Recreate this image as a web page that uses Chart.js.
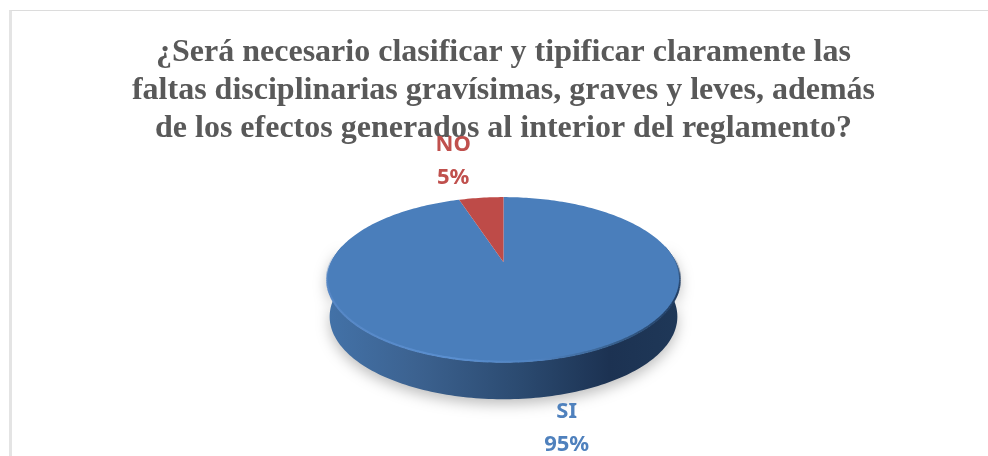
<!DOCTYPE html>
<html><head><meta charset="utf-8">
<style>html,body{margin:0;padding:0;background:#fff}#w{position:relative;width:988px;height:456px;overflow:hidden}
#f{position:absolute;left:9px;top:10px;width:990px;height:460px;border-top:1.5px solid #dcdcdc;border-left:3px solid #e4e4e4;box-sizing:border-box}
canvas{position:absolute;left:0;top:0}</style>
<script src="https://cdn.jsdelivr.net/npm/chart.js@4"></script></head>
<body><div id="w"><div id="f"></div><canvas id="c" width="988" height="456"></canvas></div>
<script>
const titleLines = ['¿Será necesario clasificar y tipificar claramente las','faltas disciplinarias gravísimas, graves y leves, además','de los efectos generados al interior del reglamento?'];
const categories = ['SI','NO'];
const percentages = [95,5];
const sliceColors = ['#4a7ebb','#be4b48'];
const labelColors = ['#4f81bd','#c0504d'];
const labelOffsets = [[29,51],[-28,-53]];
const TILT=0.457, PERSP=0.2121, DEPTH=37, LABEL_PITCH=33;
function proj(el,th,sc,dy){const u=Math.cos(th),v=-Math.sin(th),d=1+PERSP*v,R=el.outerRadius;
  return [el.x+(sc||1)*R*u/d, el.y+(dy||0)-R*TILT*v/d];}
function trace(ctx,el,a,b,sc,dy,move){const n=Math.max(8,Math.ceil(Math.abs(b-a)/0.02));
  for(let i=0;i<=n;i++){const p=proj(el,a+(b-a)*i/n,sc,dy);if(i===0&&move)ctx.moveTo(p[0],p[1]);else ctx.lineTo(p[0],p[1]);}}
const pie3d={id:'pie3d',
 beforeDatasetsDraw(chart){
  const ctx=chart.ctx,els=chart.getDatasetMeta(0).data,el=els[0];
  const PI=Math.PI;
  const L=el.x-el.outerRadius*1.023,Rr=el.x+el.outerRadius*1.023;
  // soft shadow + side wall
  ctx.save();
  ctx.shadowColor='rgba(0,0,0,0.26)';ctx.shadowBlur=14;ctx.shadowOffsetY=5;
  const g=ctx.createLinearGradient(L,0,Rr,0);
  g.addColorStop(0,'#4372a8');g.addColorStop(0.25,'#3c6290');g.addColorStop(0.55,'#2b4a70');g.addColorStop(0.8,'#1c3252');g.addColorStop(1,'#1f3858');
  ctx.fillStyle=g;ctx.beginPath();
  trace(ctx,el,-0.21,PI+0.21,1,0,true);
  trace(ctx,el,PI+0.21,-0.21,0.985,DEPTH,false);
  ctx.closePath();ctx.fill();ctx.restore();
  // top faces, from the library's arc elements
  els.forEach((a,i)=>{ctx.fillStyle=sliceColors[i];ctx.beginPath();
    ctx.moveTo(a.x,a.y);trace(ctx,a,a.startAngle,a.endAngle,1,0,false);ctx.closePath();ctx.fill();});
  // bevel rim, only on the front of the disc
  ctx.save();ctx.lineWidth=2;
  const r=ctx.createLinearGradient(L,0,Rr,0);
  r.addColorStop(0,'#5687c6');r.addColorStop(0.35,'#5a8fd0');r.addColorStop(0.6,'#4f82c0');r.addColorStop(0.8,'#38618f');r.addColorStop(1,'#1f3b60');
  ctx.strokeStyle=r;
  for(let t=-0.3;t<PI+0.3;t+=0.02){
    ctx.globalAlpha=Math.max(0,Math.min(1,(Math.sin(t)+0.1)/0.45));
    if(ctx.globalAlpha===0)continue;
    const p=proj(el,t,1,-0.5),q=proj(el,t+0.022,1,-0.5);
    ctx.beginPath();ctx.moveTo(p[0],p[1]);ctx.lineTo(q[0],q[1]);ctx.stroke();
  }
  ctx.restore();
  // labels
  ctx.save();ctx.textAlign='center';ctx.textBaseline='middle';ctx.font='bold 22px "Noto Sans"';
  els.forEach((a,i)=>{const p=proj(a,(a.startAngle+a.endAngle)/2,1,0),o=labelOffsets[i];
    ctx.fillStyle=labelColors[i];
    ctx.fillText(categories[i],p[0]+o[0],p[1]+o[1]);
    ctx.fillText(percentages[i]+'%',p[0]+o[0],p[1]+o[1]+LABEL_PITCH);});
  ctx.restore();
  return false;
 }};
new Chart(document.getElementById('c'),{type:'pie',
 data:{labels:categories,datasets:[{data:percentages,backgroundColor:sliceColors,borderWidth:0}]},
 options:{responsive:false,animation:false,radius:172.5,
  layout:{padding:{left:19,right:0,top:34,bottom:79}},
  plugins:{legend:{display:false},tooltip:{enabled:false},
   title:{display:true,text:titleLines,color:'#595959',font:{family:'"Liberation Serif"',size:32,weight:'bold',lineHeight:1.18},padding:{top:0,bottom:0}}}},
 plugins:[pie3d]});
</script></body></html>
